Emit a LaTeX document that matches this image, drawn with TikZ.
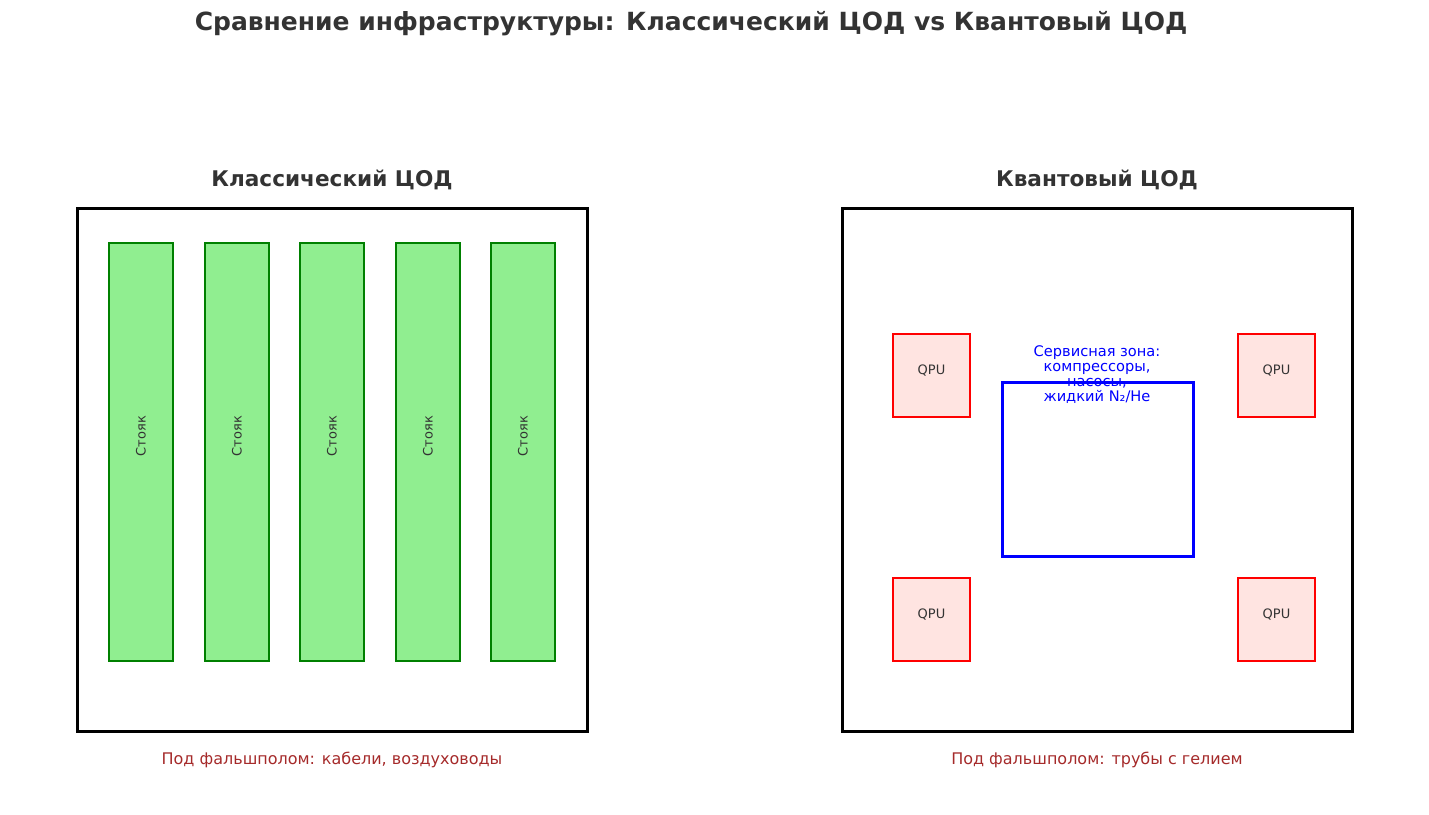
\documentclass[tikz,border=0pt]{standalone}
\usepackage{fontspec}
\setmainfont{DejaVu Sans}
\usepackage{tikz}
\definecolor{rackfill}{HTML}{90EE90}
\definecolor{rackline}{HTML}{008000}
\definecolor{qpufill}{HTML}{FFE4E1}
\definecolor{txtgray}{HTML}{333333}
\definecolor{notebrown}{HTML}{A52A2A}
\tikzset{
  hall/.style={draw=black, line width=1.5pt},
  rack/.style={draw=rackline, fill=rackfill, line width=0.6pt},
  qpu/.style={draw=red, fill=qpufill, line width=0.6pt},
  service/.style={draw=blue, line width=1.5pt},
  ttl/.style={font=\bfseries\fontsize{12.5}{15}\selectfont, text=txtgray},
  sub/.style={font=\bfseries\fontsize{10.8}{13}\selectfont, text=txtgray},
  note/.style={font=\fontsize{8}{9.5}\selectfont, text=notebrown},
  small/.style={font=\fontsize{6.5}{7.5}\selectfont, text=txtgray}
}
\begin{document}
\begin{tikzpicture}[x=0.5pt, y=-0.5pt]
  \useasboundingbox (0,0) rectangle (1429,814);
  \node[ttl] (title) at (691,24) {Сравнение инфраструктуры: Классический ЦОД vs Квантовый ЦОД};

  % classical hall
  \draw[hall] (77,208) rectangle (587,731);
  \node[sub] (ctitle) at (332,180) {Классический ЦОД};
  \foreach \x [count=\i] in {109,205,300,396,491} {
    \draw[rack] (\x,243) rectangle ++(64,418);
    \node[small, rotate=90] (rack\i) at (\x+32,436) {Стояк};
  }
  \node[note] (cnote) at (332,760) {Под фальшполом: кабели, воздуховоды};

  % quantum hall
  \draw[hall] (842,208) rectangle (1352,731);
  \node[sub] (qtitle) at (1097,180) {Квантовый ЦОД};
  \foreach \x/\y [count=\i] in {893/334, 1238/334, 893/578, 1238/578} {
    \draw[qpu] (\x,\y) rectangle ++(77,83);
    \node[small] (qpu\i) at (\x+38.5,\y+37) {QPU};
  }
  \draw[service] (1002,382) rectangle (1193,556);
  \node[font=\fontsize{7.3}{7.5}\selectfont, text=blue, align=center, anchor=north] (svc) at (1097,339)
    {Сервисная зона:\\компрессоры,\\насосы,\\жидкий N₂/He};
  \node[note] (qnote) at (1097,760) {Под фальшполом: трубы с гелием};
\end{tikzpicture}
\end{document}
